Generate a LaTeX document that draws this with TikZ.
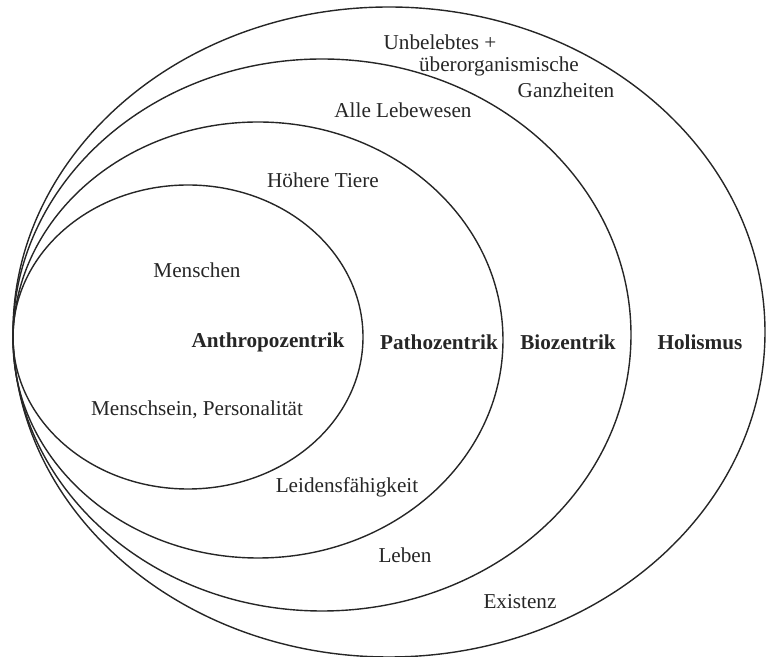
\documentclass[tikz,border=0pt]{standalone}
\usepackage{fontspec}
\setmainfont{Liberation Serif}
\usepackage{tikz}

\tikzset{
	ring/.style={draw=black!85, line width=0.7pt},
	lbl/.style={font=\fontsize{10.6}{12}\selectfont, text=black!85, inner sep=0pt},
	ethik/.style={lbl, font=\fontsize{10.6}{12}\selectfont\bfseries}
}

\begin{document}
\begin{tikzpicture}[x=0.5pt, y=-0.5pt]
	\useasboundingbox (0,0) rectangle (768,657);
		\draw[ring] (188,337) ellipse [x radius=175, y radius=152];
		\draw[ring] (258,340) ellipse [x radius=245, y radius=218];
		\draw[ring] (322,335) ellipse [x radius=309, y radius=276];
		\draw[ring] (389,332) ellipse [x radius=376, y radius=325];
		\node[lbl] (unbelebt) at (440,42) {Unbelebtes +};
		\node[lbl] (ueberorg) at (499,66) {überorganismische};
		\node[lbl] (ganzheit) at (566,90) {Ganzheiten};
		\node[lbl] (alle) at (403,110) {Alle Lebewesen};
		\node[lbl] (tiere) at (323,180) {Höhere Tiere};
		\node[lbl] (menschen) at (197,270) {Menschen};
		\node[ethik] (anthropo) at (268,342) {Anthropozentrik};
		\node[ethik] (patho) at (439,342) {Pathozentrik};
		\node[ethik] (bio) at (568,342) {Biozentrik};
		\node[ethik] (holismus) at (700,342) {Holismus};
		\node[lbl] (person) at (197,410) {Menschsein, Personalität};
		\node[lbl] (leiden) at (347,487) {Leidensfähigkeit};
		\node[lbl] (leben) at (405,555) {Leben};
		\node[lbl] (existenz) at (520,602) {Existenz};
	\end{tikzpicture}
\end{document}
